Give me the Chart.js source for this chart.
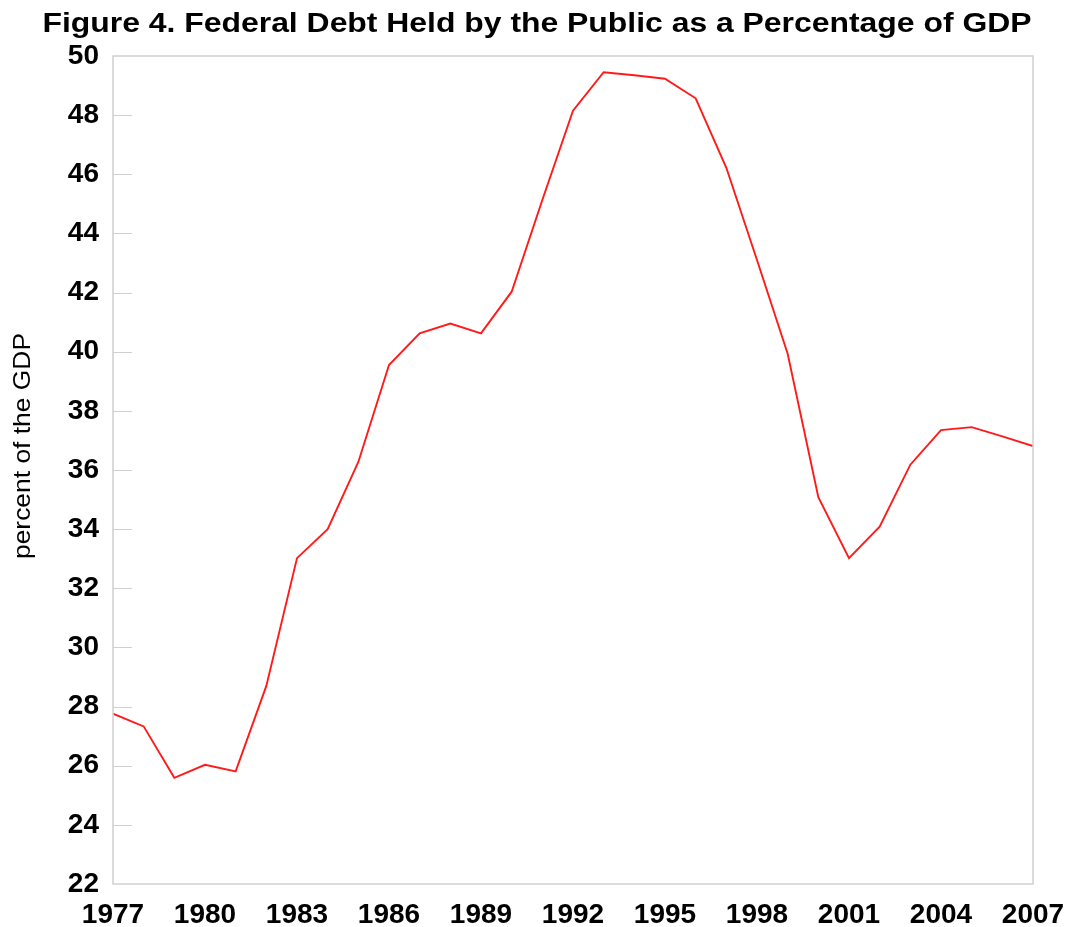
<!DOCTYPE html>
<html>
<head>
<meta charset="utf-8">
<script src="https://cdn.jsdelivr.net/npm/chart.js@4.4.0/dist/chart.umd.min.js"></script>
<style>
  html, body { margin: 0; padding: 0; background: #fff; }
  #wrap { width: 1068px; height: 927px; }
</style>
</head>
<body>
<div id="wrap"><canvas id="chart-deuda" width="1068" height="927"></canvas></div>
<script>
const years = [1977, 1978, 1979, 1980, 1981, 1982, 1983, 1984, 1985, 1986,
  1987, 1988, 1989, 1990, 1991, 1992, 1993, 1994, 1995, 1996,
  1997, 1998, 1999, 2000, 2001, 2002, 2003, 2004, 2005, 2006, 2007];
const debtPct = [27.76, 27.33, 25.59, 26.03, 25.81, 28.70, 33.02, 34.0, 36.27, 39.55,
  40.62, 40.95, 40.62, 42.03, 45.13, 48.15, 49.45, 49.35, 49.23, 48.57,
  46.22, 43.1, 39.93, 35.08, 33.02, 34.08, 36.18, 37.35, 37.45, 37.14, 36.81];
const xTicks = [1977, 1980, 1983, 1986, 1989, 1992, 1995, 1998, 2001, 2004, 2007];
const yTicks = [22, 24, 26, 28, 30, 32, 34, 36, 38, 40, 42, 44, 46, 48, 50];

const titulo = 'Figure 4. Federal Debt Held by the Public as a Percentage of GDP';
const tituloY = 'percent of the GDP';

const fuente = "'Liberation Sans', Arial, sans-serif";
const gris = '#d0d0d0';

// marco gris y marcas cortas del eje y hacia dentro
const marco = {
  id: 'marco',
  afterDraw(chart) {
    const { ctx, chartArea: a, scales } = chart;
    ctx.save();
    ctx.strokeStyle = gris;
    ctx.lineWidth = 1.5;
    ctx.strokeRect(a.left, a.top, a.right - a.left, a.bottom - a.top);
    ctx.lineWidth = 1;
    yTicks.forEach(v => {
      if (v === yTicks[0] || v === yTicks[yTicks.length - 1]) return;
      const y = Math.round(scales.y.getPixelForValue(v)) + 0.5;
      ctx.beginPath();
      ctx.moveTo(a.left, y);
      ctx.lineTo(a.left + 19, y);
      ctx.stroke();
    });
    ctx.restore();
  }
};

// los textos del original salen algo estirados a lo largo, se dibujan a mano
const textos = {
  id: 'textos',
  afterDraw(chart) {
    const { ctx } = chart;
    ctx.save();
    ctx.fillStyle = '#000';
    ctx.textAlign = 'center';
    ctx.textBaseline = 'alphabetic';
    ctx.font = `bold 27px ${fuente}`;
    let w = ctx.measureText(titulo).width;
    ctx.translate(537, 31.5);
    ctx.scale(989 / w, 1);
    ctx.fillText(titulo, 0, 0);
    ctx.restore();

    ctx.save();
    ctx.fillStyle = '#000';
    ctx.textAlign = 'center';
    ctx.textBaseline = 'middle';
    ctx.font = `24px ${fuente}`;
    w = ctx.measureText(tituloY).width;
    ctx.translate(23, 446);
    ctx.rotate(-Math.PI / 2);
    ctx.scale(226 / w, 1);
    ctx.fillText(tituloY, 0, 0);
    ctx.restore();
  }
};

new Chart(document.getElementById('chart-deuda'), {
  type: 'line',
  data: {
    datasets: [{
      data: years.map((yr, i) => ({ x: yr, y: debtPct[i] })),
      borderColor: '#ff1a1a',
      borderWidth: 1.9,
      pointRadius: 0,
      tension: 0,
      fill: false
    }]
  },
  options: {
    responsive: false,
    animation: false,
    layout: { padding: { left: 0, right: 35, top: 56, bottom: 0 } },
    plugins: {
      legend: { display: false },
      tooltip: { enabled: false },
      title: { display: false }
    },
    scales: {
      x: {
        type: 'linear',
        min: 1977,
        max: 2007,
        afterBuildTicks: s => { s.ticks = xTicks.map(v => ({ value: v })); },
        afterFit: s => { s.height = 43; s.paddingLeft = 0; s.paddingRight = 0; },
        grid: { display: false, drawTicks: false },
        border: { display: false },
        ticks: {
          color: '#000',
          padding: 14,
          maxRotation: 0,
          autoSkip: false,
          font: { family: fuente, size: 28, weight: 'bold' },
          callback: v => String(v)
        }
      },
      y: {
        min: 22,
        max: 50,
        afterBuildTicks: s => { s.ticks = yTicks.map(v => ({ value: v })); },
        afterFit: s => { s.width = 113; },
        grid: { display: false, drawTicks: false },
        border: { display: false },
        ticks: {
          color: '#000',
          padding: 14,
          font: { family: fuente, size: 28, weight: 'bold' }
        }
      }
    }
  },
  plugins: [marco, textos]
});
</script>
</body>
</html>
